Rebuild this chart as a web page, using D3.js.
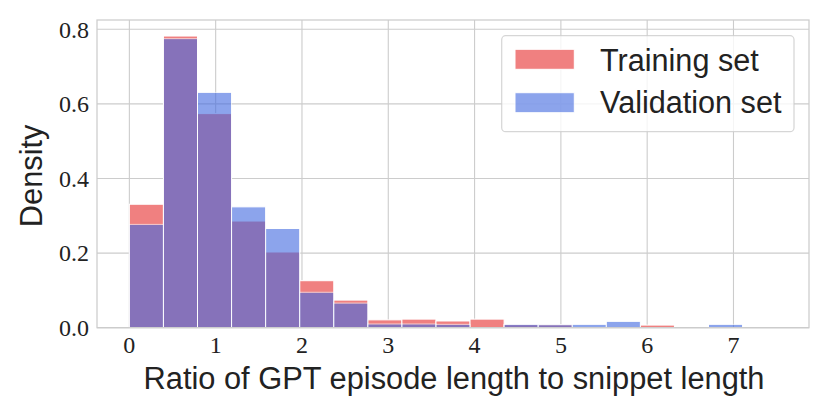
<html><head>
<title>GPT episode length ratio histogram</title>
<style>
body {
  margin: 0;
  background: white;
}
svg text {
  fill: #222;
}
</style>
<script src="https://cdnjs.cloudflare.com/ajax/libs/d3/7.8.5/d3.min.js"></script>
</head>
<body>
<div id="chart"></div>
<script>
// Histogram bins (19 equal bins from 0 to 7.5)
const binStart = 0;
const binEnd = 7.5;
const binCount = 19;

// Density per bin
const trainDensity = [0.331, 0.782, 0.574, 0.286, 0.203, 0.126, 0.074, 0.021, 0.023, 0.018,
                      0.023, 0.008, 0.008, 0, 0, 0.007, 0, 0, 0];
const validDensity = [0.277, 0.775, 0.631, 0.324, 0.266, 0.095, 0.066, 0.010, 0.010, 0.009,
                      0, 0.009, 0.008, 0.009, 0.017, 0, 0, 0.009, 0];

const xTicks = [0, 1, 2, 3, 4, 5, 6, 7];
const yTicks = [0.0, 0.2, 0.4, 0.6, 0.8];
const legendLabels = ["Training set", "Validation set"];

const width = 830, height = 415;
const plotLeft = 97, plotRight = 809, plotTop = 20, plotBottom = 327.7;

const binWidth = (binEnd - binStart) / binCount;
const toBins = vals => vals.map((v, i) => ({x0: binStart + i * binWidth, x1: binStart + (i + 1) * binWidth, y: v}));

const svg = d3.select("#chart")
  .append("svg")
  .attr("width", width)
  .attr("height", height);

// matplotlib style 5% margins on x
const pad = (binEnd - binStart) * 0.05;
const x = d3.scaleLinear()
  .domain([binStart - pad, binEnd + pad])
  .range([plotLeft, plotRight]);

const y = d3.scaleLinear()
  .domain([0, 0.825])
  .range([plotBottom, plotTop]);

// Grid
svg.append("g")
  .selectAll("line")
  .data(xTicks)
  .join("line")
  .attr("x1", d => x(d)).attr("x2", d => x(d))
  .attr("y1", plotTop).attr("y2", plotBottom)
  .attr("stroke", "#cccccc")
  .attr("stroke-width", 1.1);

svg.append("g")
  .selectAll("line")
  .data(yTicks)
  .join("line")
  .attr("x1", plotLeft).attr("x2", plotRight)
  .attr("y1", d => y(d)).attr("y2", d => y(d))
  .attr("stroke", "#cccccc")
  .attr("stroke-width", 1.1);

// Training bars (opaque)
svg.append("g")
  .selectAll("rect")
  .data(toBins(trainDensity).filter(d => d.y > 0))
  .join("rect")
  .attr("x", d => x(d.x0))
  .attr("y", d => y(d.y))
  .attr("width", d => x(d.x1) - x(d.x0))
  .attr("height", d => y(0) - y(d.y))
  .attr("fill", "#f08080")
  .attr("stroke", "white")
  .attr("stroke-width", 1);

// Validation bars (translucent on top)
svg.append("g")
  .selectAll("rect")
  .data(toBins(validDensity).filter(d => d.y > 0))
  .join("rect")
  .attr("x", d => x(d.x0))
  .attr("y", d => y(d.y))
  .attr("width", d => x(d.x1) - x(d.x0))
  .attr("height", d => y(0) - y(d.y))
  .attr("fill", "royalblue")
  .attr("stroke", "white")
  .attr("stroke-width", 1)
  .attr("opacity", 0.6);

// Frame
svg.append("rect")
  .attr("x", plotLeft)
  .attr("y", plotTop)
  .attr("width", plotRight - plotLeft)
  .attr("height", plotBottom - plotTop)
  .attr("fill", "none")
  .attr("stroke", "#cccccc")
  .attr("stroke-width", 1.25);

// Tick labels
svg.append("g")
  .selectAll("text")
  .data(xTicks)
  .join("text")
  .attr("x", d => x(d))
  .attr("y", 352.5)
  .attr("text-anchor", "middle")
  .attr("font-family", "'Liberation Serif', serif")
  .attr("font-size", 24)
  .text(d => d);

svg.append("g")
  .selectAll("text")
  .data(yTicks)
  .join("text")
  .attr("x", 89)
  .attr("y", d => y(d) + 8.3)
  .attr("text-anchor", "end")
  .attr("font-family", "'Liberation Serif', serif")
  .attr("font-size", 24)
  .text(d => d.toFixed(1));

// Axis labels
svg.append("text")
  .attr("x", (plotLeft + plotRight) / 2 + 1)
  .attr("y", 388.5)
  .attr("text-anchor", "middle")
  .attr("font-family", "'Liberation Sans', Arial, sans-serif")
  .attr("font-size", 30.8)
  .text("Ratio of GPT episode length to snippet length");

svg.append("text")
  .attr("transform", `translate(41.5,${(plotTop + plotBottom) / 2 + 2}) rotate(-90)`)
  .attr("text-anchor", "middle")
  .attr("font-family", "'Liberation Sans', Arial, sans-serif")
  .attr("font-size", 30.8)
  .text("Density");

// Legend
const legend = svg.append("g");
legend.append("rect")
  .attr("x", 501.7)
  .attr("y", 35.7)
  .attr("width", 292.3)
  .attr("height", 96)
  .attr("rx", 4)
  .attr("fill", "white")
  .attr("fill-opacity", 0.8)
  .attr("stroke", "#cccccc")
  .attr("stroke-opacity", 0.8)
  .attr("stroke-width", 1.25);

const legendColors = ["#f08080", "royalblue"];
const legendOpacity = [1, 0.6];
legendLabels.forEach((label, i) => {
  legend.append("rect")
    .attr("x", 515)
    .attr("y", 49.3 + i * 43.4)
    .attr("width", 59.3)
    .attr("height", 20)
    .attr("fill", legendColors[i])
    .attr("stroke", "white")
    .attr("stroke-width", 1)
    .attr("opacity", legendOpacity[i]);
  legend.append("text")
    .attr("x", 600)
    .attr("y", 70.5 + i * 42.3)
    .attr("font-family", "'Liberation Sans', Arial, sans-serif")
    .attr("font-size", 30.6)
    .text(label);
});
</script>
</body>
</html>
